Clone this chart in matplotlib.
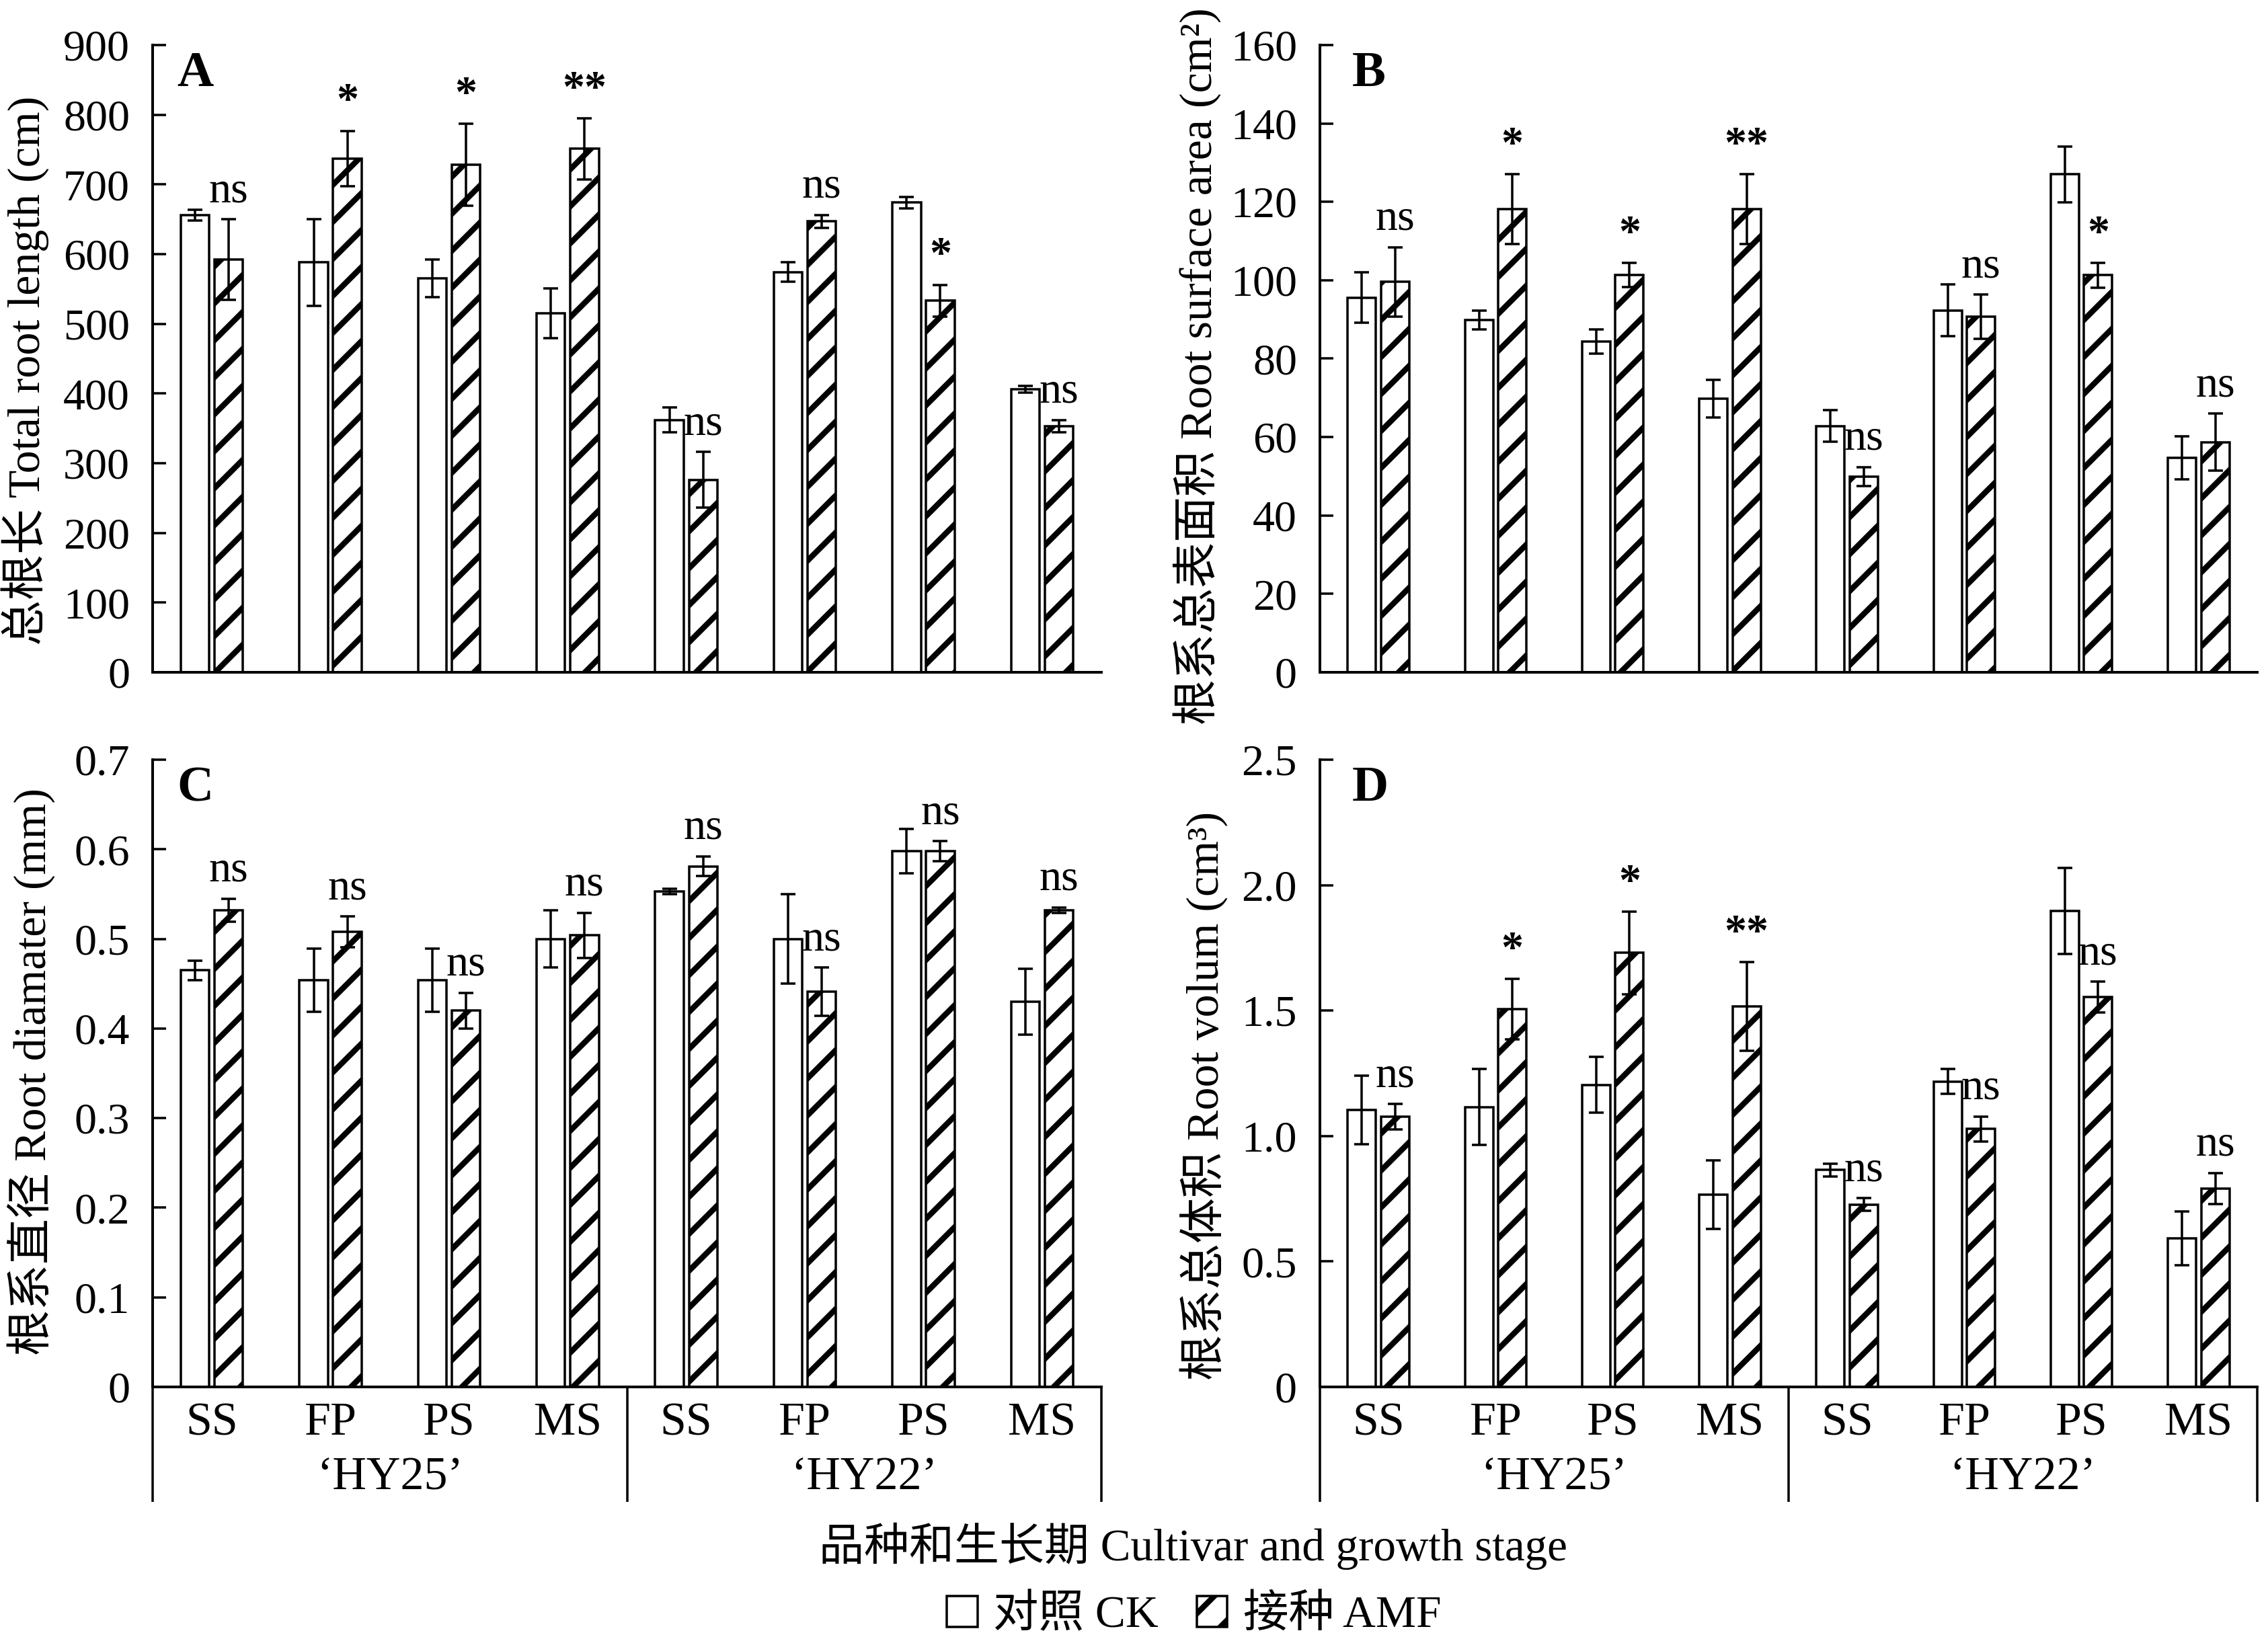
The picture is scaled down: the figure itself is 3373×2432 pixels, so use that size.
import matplotlib
matplotlib.use('Agg')
import matplotlib.pyplot as plt
from matplotlib.patches import Patch
from matplotlib.transforms import blended_transform_factory
import numpy as np

W, H = 3373, 2432
DPI = 330


def P(px):
    """pixels -> points at the output dpi"""
    return px * 72.0 / DPI


plt.rcParams['font.family'] = ['Liberation Serif', 'Noto Sans CJK SC']
plt.rcParams['hatch.linewidth'] = P(8.5)
plt.rcParams['hatch.color'] = 'black'

# ---------------- data ----------------
stages = ['SS', 'FP', 'PS', 'MS', 'SS', 'FP', 'PS', 'MS']
cultivars = ['\u2018HY25\u2019', '\u2018HY22\u2019']

A_ck = [656, 588, 565, 515, 362, 574, 674, 406]
A_ck_err = [8, 62, 27, 36, 18, 14, 8, 5]
A_amf = [592, 737, 728, 751, 276, 647, 533, 353]
A_amf_err = [58, 40, 59, 44, 40, 9, 23, 9]
A_sig = ['ns', '*', '*', '**', 'ns', 'ns', '*', 'ns']
A_yticks = [0, 100, 200, 300, 400, 500, 600, 700, 800, 900]
A_yticklabels = ['0', '100', '200', '300', '400', '500', '600', '700', '800', '900']

B_ck = [95.6, 89.9, 84.4, 69.8, 62.8, 92.3, 127.0, 54.7]
B_ck_err = [6.5, 2.4, 3.1, 4.8, 4.0, 6.6, 7.1, 5.5]
B_amf = [99.6, 118.1, 101.4, 118.1, 49.9, 90.7, 101.3, 58.7]
B_amf_err = [8.8, 8.9, 3.1, 8.9, 2.4, 5.6, 3.2, 7.3]
B_sig = ['ns', '*', '*', '**', 'ns', 'ns', '*', 'ns']
B_yticks = [0, 20, 40, 60, 80, 100, 120, 140, 160]
B_yticklabels = ['0', '20', '40', '60', '80', '100', '120', '140', '160']

C_ck = [0.465, 0.454, 0.454, 0.500, 0.553, 0.500, 0.598, 0.430]
C_ck_err = [0.011, 0.035, 0.035, 0.032, 0.003, 0.050, 0.025, 0.037]
C_amf = [0.532, 0.508, 0.420, 0.504, 0.581, 0.441, 0.598, 0.532]
C_amf_err = [0.013, 0.017, 0.020, 0.025, 0.011, 0.027, 0.011, 0.003]
C_sig = ['ns', 'ns', 'ns', 'ns', 'ns', 'ns', 'ns', 'ns']
C_yticks = [0, 0.1, 0.2, 0.3, 0.4, 0.5, 0.6, 0.7]
C_yticklabels = ['0', '0.1', '0.2', '0.3', '0.4', '0.5', '0.6', '0.7']

D_ck = [1.104, 1.116, 1.204, 0.766, 0.865, 1.217, 1.897, 0.592]
D_ck_err = [0.136, 0.151, 0.112, 0.137, 0.025, 0.050, 0.171, 0.108]
D_amf = [1.077, 1.506, 1.730, 1.517, 0.727, 1.028, 1.554, 0.791]
D_amf_err = [0.050, 0.120, 0.165, 0.177, 0.025, 0.049, 0.061, 0.061]
D_sig = ['ns', '*', '*', '**', 'ns', 'ns', 'ns', 'ns']
D_yticks = [0, 0.5, 1.0, 1.5, 2.0, 2.5]
D_yticklabels = ['0', '0.5', '1.0', '1.5', '2.0', '2.5']

ylabels = ['总根长 Total root length (cm)',
           '根系总表面积 Root surface area (cm\u00b2)',
           '根系直径 Root diamater (mm)',
           '根系总体积 Root volum (cm\u00b3)']
letters = ['A', 'B', 'C', 'D']
xlabel = '品种和生长期 Cultivar and growth stage'
legend_labels = ['对照 CK', '接种 AMF']

# ---------------- figure ----------------
fig = plt.figure(figsize=(W / DPI, H / DPI), dpi=DPI)


def fx(px):
    return px / W


def fy(py):
    return 1 - py / H


boxes = [  # left, top, right, bottom in pixels
    (227, 67, 1638, 1000),
    (1963, 67, 3357, 1000),
    (227, 1130, 1638, 2063),
    (1963, 1130, 3357, 2063),
]
ylabel_pos = [(37, 551), (1780, 545), (46, 1594), (1790, 1630)]
letter_x = [0.0255, 0.034, 0.0255, 0.034]

FS_TICK = P(66)
FS_CAT = P(70)
FS_SIG = P(66)
FS_YL = P(68)
LW_BAR = P(3.5)
LW_SPINE = P(4)


def panel(ax, ck, ck_err, amf, amf_err, sig, yticks, yticklabels, letter, lx, bottom):
    n = len(ck)
    x = np.arange(n) + 0.5
    w = 0.24
    off = 0.142
    ax.bar(x - off, ck, w, color='white', edgecolor='black', linewidth=LW_BAR, zorder=2)
    ax.bar(x + off, amf, w, color='white', edgecolor='black', hatch='//',
           linewidth=LW_BAR, zorder=2)
    for xx, v, e in [(x - off, ck, ck_err), (x + off, amf, amf_err)]:
        ax.errorbar(xx, v, yerr=e, fmt='none', ecolor='black', elinewidth=LW_BAR,
                    capsize=P(11), capthick=LW_BAR, zorder=3)
    ymax = yticks[-1]
    ax.set_xlim(0, n)
    ax.set_ylim(0, ymax)
    for xi, a, e, s in zip(x + off, amf, amf_err, sig):
        ax.text(xi, a + e + 0.028 * ymax, s, ha='center', va='baseline',
                fontsize=FS_SIG, fontweight=('bold' if '*' in s else 'normal'), zorder=4)
    for sp in ['top', 'right']:
        ax.spines[sp].set_visible(False)
    for sp in ['left', 'bottom']:
        ax.spines[sp].set_linewidth(LW_SPINE)
    ax.set_yticks(yticks, yticklabels)
    ax.tick_params(axis='y', direction='in', length=P(20), width=P(3.5), pad=P(34),
                   labelsize=FS_TICK)
    ax.text(lx, 0.99, letter, transform=ax.transAxes, fontweight='bold',
            fontsize=P(75), ha='left', va='top')
    if bottom:
        ax.set_xticks(x, stages)
        ax.tick_params(axis='x', length=0, pad=P(23), labelsize=FS_CAT)
        tr = blended_transform_factory(ax.transData, ax.transAxes)
        for xv in [0, n / 2, n]:
            ax.plot([xv, xv], [0, -0.183], transform=tr, color='black', lw=P(3.5),
                    clip_on=False, solid_capstyle='butt')
        for i, c in enumerate(cultivars):
            ax.text(n / 4 + i * n / 2, -0.145, c, transform=tr, ha='center', va='center',
                    fontsize=FS_CAT)
    else:
        ax.set_xticks([])


datasets = [
    (A_ck, A_ck_err, A_amf, A_amf_err, A_sig, A_yticks, A_yticklabels),
    (B_ck, B_ck_err, B_amf, B_amf_err, B_sig, B_yticks, B_yticklabels),
    (C_ck, C_ck_err, C_amf, C_amf_err, C_sig, C_yticks, C_yticklabels),
    (D_ck, D_ck_err, D_amf, D_amf_err, D_sig, D_yticks, D_yticklabels),
]

for k, (box, d) in enumerate(zip(boxes, datasets)):
    l, t, r, b = box
    ax = fig.add_axes([fx(l), fy(b), fx(r - l), (b - t) / H])
    panel(ax, *d, letters[k], letter_x[k], bottom=(k >= 2))
    px, py = ylabel_pos[k]
    fig.text(fx(px), fy(py), ylabels[k], rotation=90, ha='center', va='center',
             fontsize=FS_YL)

fig.text(fx(1775), fy(2300), xlabel, ha='center', va='center', fontsize=P(67))

handles = [Patch(facecolor='white', edgecolor='black', linewidth=LW_BAR),
           Patch(facecolor='white', edgecolor='black', linewidth=LW_BAR, hatch='//')]
fig.legend(handles, legend_labels, loc='center', bbox_to_anchor=(fx(1776), fy(2403)),
           ncol=2, frameon=False, fontsize=P(67.5), handlelength=0.67, handleheight=0.67,
           handletextpad=0.35, columnspacing=0.85, borderpad=0, borderaxespad=0)

fig.savefig('out.png', dpi=DPI)
